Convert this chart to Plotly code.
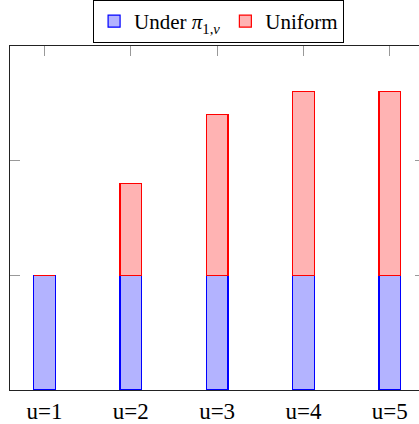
import plotly.graph_objects as go

categories = [1, 2, 3, 4, 5]
tick_labels = ["u=1", "u=2", "u=3", "u=4", "u=5"]
under_pi = [1, 1, 1, 1, 1]
uniform = [0, 0.8, 1.4, 1.6, 1.6]
y_ticks = [0, 1, 2, 3]

FONT = "Liberation Serif"

fig = go.Figure()
fig.add_trace(go.Bar(
    x=categories, y=under_pi, width=0.25,
    name="Under <i>π</i><sub>1,<i>v</i></sub>",
    marker=dict(color="rgb(179,179,255)", line=dict(color="#0000ff", width=1.2)),
))
fig.add_trace(go.Bar(
    x=categories, y=uniform, width=0.25,
    name="Uniform",
    marker=dict(color="rgb(255,179,179)", line=dict(color="#ff0000", width=1.2)),
))
# invisible helper trace so the right-side tick axis is drawn
fig.add_trace(go.Scatter(
    x=[categories[0]], y=[0], yaxis="y2", mode="markers",
    marker=dict(opacity=0), showlegend=False, hoverinfo="skip",
))

fig.update_layout(
    width=419, height=424,
    margin=dict(l=10, r=0, t=46, b=34, autoexpand=False),
    barmode="stack",
    plot_bgcolor="white", paper_bgcolor="white",
    font=dict(family=FONT, size=22, color="black"),
    showlegend=True,
    legend=dict(
        orientation="h", x=0.51, xanchor="center", y=1.1337, yanchor="top",
        bordercolor="black", borderwidth=1, bgcolor="white",
        font=dict(family=FONT, size=21, color="black"),
        itemwidth=30, traceorder="normal", tracegroupgap=0,
    ),
    xaxis=dict(
        range=[0.6, 5.339], tickvals=categories, ticktext=tick_labels,
        showline=True, linecolor="#222", linewidth=1, mirror="ticks",
        ticks="inside", ticklen=10, tickcolor="#999", tickwidth=1,
        showgrid=False, zeroline=False, layer="below traces",
        tickfont=dict(family=FONT, size=23, color="black"),
        automargin=False,
    ),
    yaxis=dict(
        range=[0, 3], tickvals=y_ticks, showticklabels=False,
        showline=True, linecolor="#222", linewidth=1,
        ticks="inside", ticklen=10, tickcolor="#999", tickwidth=1,
        showgrid=False, zeroline=False, layer="below traces",
        automargin=False,
    ),
    yaxis2=dict(
        range=[0, 3], tickvals=y_ticks, showticklabels=False,
        overlaying="y", side="right", showline=False,
        ticks="inside", ticklen=4, tickcolor="#999", tickwidth=1,
        showgrid=False, zeroline=False, automargin=False,
    ),
)

fig.write_html(
    "out.html",
    config={"displayModeBar": False},
    post_script="document.body.style.margin='0';document.body.style.overflow='hidden';",
)
